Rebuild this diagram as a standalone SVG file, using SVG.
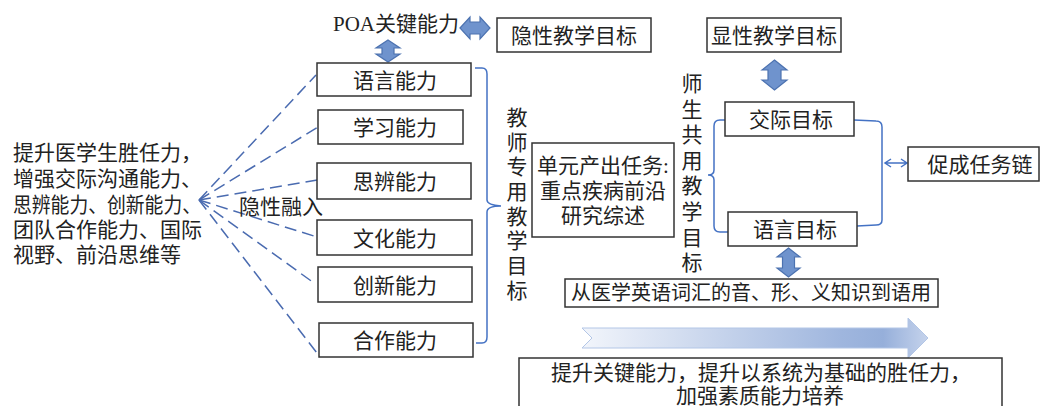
<svg xmlns="http://www.w3.org/2000/svg" width="1043" height="406" viewBox="0 0 1043 406">
<style>
text{font-family:"Liberation Serif","Noto Sans CJK SC",serif;fill:#222;font-size:21px}
.c{text-anchor:middle}
.box{fill:#fff;stroke:#333;stroke-width:1.5}
.blk{fill:#6f93cd;stroke:#4c72b0;stroke-width:1.2}
.dash{stroke:#4a6bb0;stroke-width:1.5;stroke-dasharray:12 6;fill:none}
.br{stroke:#4472c4;stroke-width:1.5;fill:none}
</style>
<defs>
<linearGradient id="g" x1="0" y1="0" x2="1" y2="0">
<stop offset="0" stop-color="#f2f5fb"/>
<stop offset="0.75" stop-color="#9fb6de"/>
<stop offset="0.87" stop-color="#96afda"/>
<stop offset="1" stop-color="#c5d3ec"/>
</linearGradient>
</defs>
<g id="connectors">
<path class="dash" d="M199,200 L316,75"/>
<path class="dash" d="M199,200 L318,127"/>
<path class="dash" d="M199,200 L318,180"/>
<path class="dash" d="M199,200 L317,237"/>
<path class="dash" d="M199,200 L314,283"/>
<path class="dash" d="M199,200 L320,357"/>
<path class="br" d="M475,68 L482,68 Q487,68 487,74 L487,200 Q487,205 501,206 Q487,206 487,212 L487,337 Q487,343 482,343 L476,343"/>
<path class="br" d="M725,120 L720,120 Q714,120 714,126 L714,170 Q714,175 708,175 Q714,175 714,180 L714,226 Q714,232 720,232 L728,232"/>
<path class="br" d="M854,120 L876,121 Q882,121 882,127 L882,220 Q882,225 876,225 L857,226"/>
<path class="br" d="M885,163 L907,163 M891,159 L885,163 L891,167 M901,159 L907,163 L901,167"/>
<polygon class="blk" points="388,40 400,48 394,48 394,54 400,54 388,62 376,54 382,54 382,48 376,48"/>
<polygon class="blk" points="460,28 470,17 470,22 480,22 480,17 490,28 480,39 480,34 470,34 470,39"/>
<polygon class="blk" points="774.5,60 787,70 781,70 781,80 787,80 774.5,90 762,80 768,80 768,70 762,70"/>
<polygon class="blk" points="788.5,248 800,257 794.5,257 794.5,268 800,268 788.5,277 777,268 782.5,268 782.5,257 777,257"/>
<polygon points="582,328 908,328 908,318 928,338 908,358 908,348 582,348 592,338" fill="url(#g)" stroke="#b3c6e6" stroke-width="1"/>
</g>
<g id="goal-text">
<text x="13" y="160">提升医学生胜任力，</text>
<text x="13" y="186">增强交际沟通能力、</text>
<text x="13" y="212" textLength="188" lengthAdjust="spacingAndGlyphs">思辨能力、创新能力、</text>
<text x="13" y="237">团队合作能力、国际</text>
<text x="13" y="262">视野、前沿思维等</text>
</g>
<g id="poa"><text x="333" y="31">POA关键能力</text></g>
<g id="yinxing-label"><text x="239" y="214">隐性融入</text></g>
<g id="yinxing-goal"><rect class="box" x="497" y="18" width="154" height="34"/><text class="c" x="574" y="43">隐性教学目标</text></g>
<g id="xianxing-goal"><rect class="box" x="707" y="18" width="134" height="34"/><text class="c" x="774" y="43">显性教学目标</text></g>
<g id="lang-ability"><rect class="box" x="317" y="63" width="154" height="33"/><text class="c" x="395" y="87.5">语言能力</text></g>
<g id="learn-ability"><rect class="box" x="318" y="110" width="145" height="34"/><text class="c" x="395" y="135">学习能力</text></g>
<g id="think-ability"><rect class="box" x="317" y="163" width="154" height="36"/><text class="c" x="395" y="189">思辨能力</text></g>
<g id="culture-ability"><rect class="box" x="317" y="220" width="155" height="35"/><text class="c" x="395" y="245.5">文化能力</text></g>
<g id="innov-ability"><rect class="box" x="318" y="267" width="154" height="35"/><text class="c" x="395" y="292.5">创新能力</text></g>
<g id="coop-ability"><rect class="box" x="319" y="323" width="154" height="34"/><text class="c" x="395" y="348">合作能力</text></g>
<g id="teacher-goal">
<text class="c" x="517"><tspan x="517" y="125">教</tspan><tspan x="517" y="150">师</tspan><tspan x="517" y="174">专</tspan><tspan x="517" y="199">用</tspan><tspan x="517" y="224">教</tspan><tspan x="517" y="248">学</tspan><tspan x="517" y="273">目</tspan><tspan x="517" y="298">标</tspan></text>
</g>
<g id="unit-task"><rect class="box" x="532" y="143" width="142" height="94"/>
<text class="c" x="603" y="173">单元产出任务:</text>
<text class="c" x="603" y="198">重点疾病前沿</text>
<text class="c" x="603" y="223">研究综述</text></g>
<g id="shared-goal">
<text class="c" x="692"><tspan x="692" y="91">师</tspan><tspan x="692" y="117">生</tspan><tspan x="692" y="142">共</tspan><tspan x="692" y="168">用</tspan><tspan x="692" y="193">教</tspan><tspan x="692" y="219">学</tspan><tspan x="692" y="245">目</tspan><tspan x="692" y="270">标</tspan></text>
</g>
<g id="comm-goal"><rect class="box" x="725" y="102" width="129" height="34"/><text class="c" x="791" y="127">交际目标</text></g>
<g id="lang-goal"><rect class="box" x="728" y="212" width="129" height="34"/><text class="c" x="795" y="237">语言目标</text></g>
<g id="task-chain"><rect class="box" x="908" y="147" width="131" height="34"/><text class="c" x="980" y="172">促成任务链</text></g>
<g id="vocab"><rect class="box" x="565" y="279" width="373" height="28"/><text class="c" x="751" y="300" style="font-size:20px">从医学英语词汇的音、形、义知识到语用</text></g>
<g id="bottom"><rect class="box" x="519" y="358" width="483" height="60"/>
<text class="c" x="761" y="380">提升关键能力，提升以系统为基础的胜任力，</text>
<text class="c" x="760" y="403">加强素质能力培养</text></g>
</svg>
